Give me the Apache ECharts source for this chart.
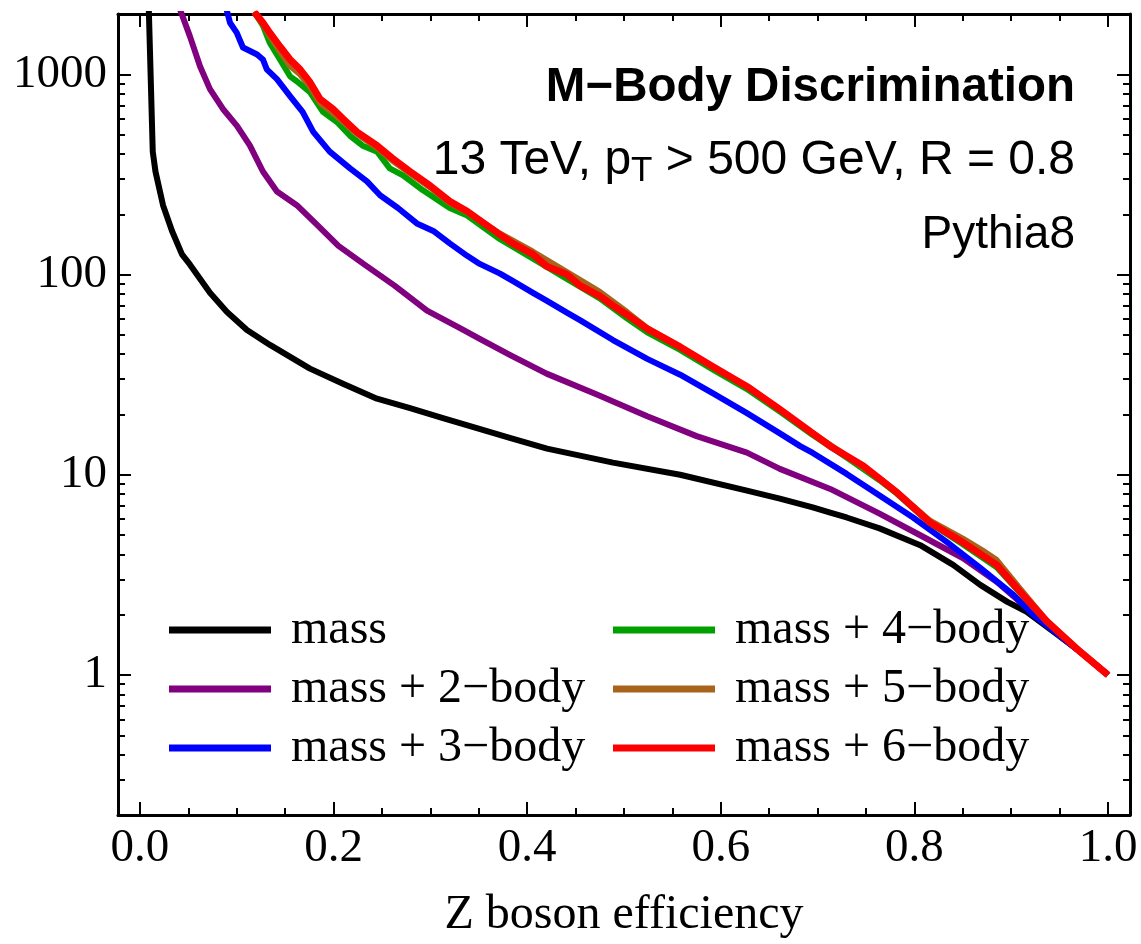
<!DOCTYPE html>
<html><head><meta charset="utf-8">
<script src="https://cdn.jsdelivr.net/npm/echarts@6/dist/echarts.min.js"></script>
<style>html,body{margin:0;padding:0;background:#fff}#c{width:1141px;height:944px}</style>
</head><body><div id="c"></div>
<script>
// ---- data ----
const seriesNames = ['mass', 'mass + 2\u2212body', 'mass + 3\u2212body', 'mass + 4\u2212body', 'mass + 5\u2212body', 'mass + 6\u2212body'];

const massX = [0.0088, 0.0132, 0.016, 0.0238, 0.0331, 0.0434, 0.0517, 0.0723, 0.0899, 0.1105, 0.1343, 0.1756, 0.2097, 0.2448, 0.279, 0.313, 0.348, 0.382, 0.4205, 0.4886, 0.558, 0.627, 0.661, 0.695, 0.713, 0.730, 0.764, 0.806, 0.840, 0.868, 0.896, 0.916, 0.947, 0.971, 1.0];
const massY = [2400, 411, 327, 222, 165, 126, 112, 81, 65, 52.8, 44.5, 33.9, 28.5, 24.0, 21.5, 19.2, 17.1, 15.3, 13.5, 11.5, 10.0, 8.33, 7.6, 6.87, 6.48, 6.12, 5.4, 4.45, 3.55, 2.82, 2.32, 2.07, 1.6, 1.31, 1.0];

const body2X = [0.0415, 0.0517, 0.062, 0.0723, 0.0857, 0.1002, 0.1136, 0.127, 0.1415, 0.162, 0.183, 0.205, 0.232, 0.263, 0.2965, 0.3306, 0.351, 0.382, 0.420, 0.472, 0.524, 0.575, 0.627, 0.661, 0.713, 0.764, 0.806, 0.850, 0.885, 0.916, 0.947, 0.971, 1.0];
const body2Y = [2100, 1542, 1096, 843, 671, 553, 440, 327, 260, 222, 177, 139, 112, 88, 66, 54, 47.7, 39.7, 32.0, 25.2, 19.6, 15.6, 12.9, 10.7, 8.5, 6.4, 4.99, 3.84, 2.92, 2.17, 1.62, 1.31, 1.0];

const body3X = [0.0885, 0.093, 0.0999, 0.1064, 0.121, 0.127, 0.131, 0.1415, 0.155, 0.168, 0.179, 0.196, 0.217, 0.2345, 0.248, 0.2665, 0.286, 0.303, 0.320, 0.338, 0.351, 0.372, 0.385, 0.406, 0.420, 0.441, 0.4545, 0.4886, 0.524, 0.558, 0.592, 0.627, 0.661, 0.682, 0.695, 0.730, 0.764, 0.7986, 0.834, 0.868, 0.902, 0.9225, 0.947, 0.971, 1.0];
const body3Y = [2200, 1808, 1614, 1360, 1256, 1186, 1059, 945, 778, 649, 516, 411, 339, 292, 249, 215, 180, 165, 143, 124, 113, 101, 93, 81, 74, 64.5, 59.2, 47.1, 37.9, 31.6, 25.5, 20.3, 16.1, 13.9, 12.85, 10.1, 7.87, 6.12, 4.60, 3.43, 2.52, 2.0, 1.62, 1.31, 1.0];

const body4X = [0.118, 0.127, 0.134, 0.1446, 0.155, 0.162, 0.1756, 0.189, 0.2035, 0.217, 0.230, 0.245, 0.258, 0.2717, 0.292, 0.320, 0.338, 0.372, 0.406, 0.441, 0.475, 0.503, 0.524, 0.558, 0.592, 0.627, 0.661, 0.695, 0.730, 0.764, 0.782, 0.816, 0.850, 0.885, 0.909, 0.937, 0.971, 1.0];
const body4Y = [2050, 1750, 1440, 1186, 977, 923, 815, 649, 578, 493, 440, 411, 339, 313, 264, 215, 197, 150, 120, 95, 76, 60.5, 51.5, 42, 33.5, 26.8, 20.7, 15.8, 12.2, 9.4, 8.05, 5.75, 4.5, 3.45, 2.58, 1.84, 1.31, 1.0];

const body5X = [0.118, 0.127, 0.134, 0.1446, 0.155, 0.1653, 0.1756, 0.186, 0.1994, 0.2097, 0.224, 0.245, 0.261, 0.279, 0.300, 0.320, 0.338, 0.372, 0.406, 0.441, 0.475, 0.503, 0.524, 0.558, 0.592, 0.627, 0.661, 0.695, 0.730, 0.764, 0.782, 0.816, 0.850, 0.870, 0.885, 0.909, 0.937, 0.971, 1.0];
const body5Y = [2050, 1790, 1560, 1300, 1100, 1000, 870, 720, 640, 580, 505, 430, 370, 320, 272, 228, 205, 160, 130, 103, 82, 65, 54, 43.5, 34.6, 27.6, 21.2, 16.1, 12.4, 9.6, 8.2, 5.9, 4.8, 4.2, 3.75, 2.7, 1.86, 1.31, 1.0];

const body6X = [0.118, 0.127, 0.134, 0.1446, 0.155, 0.1653, 0.1756, 0.186, 0.1994, 0.2097, 0.224, 0.245, 0.261, 0.279, 0.300, 0.320, 0.338, 0.372, 0.385, 0.406, 0.420, 0.441, 0.4545, 0.475, 0.4886, 0.503, 0.524, 0.558, 0.592, 0.627, 0.661, 0.695, 0.713, 0.730, 0.747, 0.764, 0.782, 0.816, 0.850, 0.885, 0.909, 0.937, 0.971, 1.0];
const body6Y = [2050, 1808, 1614, 1376, 1186, 1059, 913, 752, 671, 599, 516, 440, 380, 327, 277, 232, 207, 158, 143, 126, 110, 100, 88, 78, 70, 63, 53.5, 43.5, 34.6, 27.6, 21.2, 16.1, 13.9, 12.4, 11.1, 9.55, 8.15, 5.78, 4.60, 3.55, 2.61, 1.85, 1.31, 1.0];

const xMajorTicks = [0, 0.2, 0.4, 0.6, 0.8, 1.0];
const xMinorTicks = [0.05, 0.1, 0.15, 0.25, 0.3, 0.35, 0.45, 0.5, 0.55, 0.65, 0.7, 0.75, 0.85, 0.9, 0.95];
const yMajorTicks = [1, 10, 100, 1000];
const yMinorTicks = [0.3, 0.4, 0.5, 0.6, 0.7, 0.8, 0.9, 2, 3, 4, 5, 6, 7, 8, 9, 20, 30, 40, 50, 60, 70, 80, 90, 200, 300, 400, 500, 600, 700, 800, 900];

const titleText = 'M\u2212Body Discrimination';
const xAxisTitle = 'Z boson efficiency';

// ---- chart ----
const SERIF = "'Liberation Serif', 'Times New Roman', serif";
const SANS = "'Liberation Sans', Arial, sans-serif";
const X_MIN = -0.0227, X_MAX = 1.0227, Y_MIN = 0.2, Y_MAX = 2000;
const colors = ['#000000', '#800080', '#0000ff', '#00a000', '#a8641a', '#ff0000'];
const widths = [6, 6, 6, 6, 6, 7];
const xsAll = [massX, body2X, body3X, body4X, body5X, body6X];
const ysAll = [massY, body2Y, body3Y, body4Y, body5Y, body6Y];

function xAxisDef(pos, ticks, len, showLabel, showLine) {
  return {
    type: 'value', position: pos, min: X_MIN, max: X_MAX,
    axisLine: { show: showLine, onZero: false, lineStyle: { color: '#000', width: 3 } },
    axisTick: { show: true, inside: true, length: len, customValues: ticks, lineStyle: { color: '#000', width: 2 } },
    axisLabel: { show: showLabel, customValues: xMajorTicks, formatter: v => Number(v).toFixed(1), margin: 10, color: '#000', fontFamily: SERIF, fontSize: 47 },
    splitLine: { show: false }
  };
}
function yAxisDef(pos, ticks, len, showLabel, showLine) {
  return {
    type: 'log', logBase: 10, position: pos, min: Y_MIN, max: Y_MAX,
    axisLine: { show: showLine, onZero: false, lineStyle: { color: '#000', width: 3 } },
    axisTick: { show: true, inside: true, length: len, customValues: ticks, lineStyle: { color: '#000', width: 2 } },
    axisLabel: { show: showLabel, customValues: yMajorTicks, formatter: v => String(Math.round(v)), margin: 11, color: '#000', fontFamily: SERIF, fontSize: 47 },
    splitLine: { show: false }
  };
}

const xAxes = [
  xAxisDef('bottom', xMajorTicks, 13, true, true),
  xAxisDef('bottom', xMinorTicks, 7, false, false),
  xAxisDef('top', xMajorTicks, 13, false, true),
  xAxisDef('top', xMinorTicks, 7, false, false)
];
xAxes[0].name = xAxisTitle;
xAxes[0].nameLocation = 'middle';
xAxes[0].nameGap = 76;
xAxes[0].nameTextStyle = { color: '#000', fontFamily: SERIF, fontSize: 48 };

const yAxes = [
  yAxisDef('left', yMajorTicks, 13, true, true),
  yAxisDef('left', yMinorTicks, 7, false, false),
  yAxisDef('right', yMajorTicks, 13, false, true),
  yAxisDef('right', yMinorTicks, 7, false, false)
];

const series = seriesNames.map((name, k) => ({
  name, type: 'line', xAxisIndex: 0, yAxisIndex: 0,
  data: xsAll[k].map((x, i) => [x, ysAll[k][i]]),
  symbol: 'none', showSymbol: false, clip: true, z: 2 + k,
  lineStyle: { color: colors[k], width: widths[k], join: 'round' },
  itemStyle: { color: colors[k] }
}));

const legendText = { color: '#000', fontFamily: SERIF, fontSize: 48, lineHeight: 48, rich: { s: { width: 15 } } };
function legendDef(names, left) {
  return {
    data: names, orient: 'vertical', left: left, top: 606, padding: 0,
    itemWidth: 102, itemHeight: 7, itemGap: 11, icon: 'rect', selectedMode: false,
    itemStyle: { borderWidth: 0 },
    formatter: n => '{s| }' + n,
    textStyle: legendText
  };
}

const option = {
  animation: false,
  backgroundColor: '#fff',
  grid: { left: 118, right: 11, top: 14, bottom: 123, containLabel: false },
  xAxis: xAxes,
  yAxis: yAxes,
  legend: [legendDef(seriesNames.slice(0, 3), 169), legendDef(seriesNames.slice(3), 613)],
  graphic: [
    { type: 'text', x: 1075, y: 88, z: 100, style: { text: titleText, align: 'right', verticalAlign: 'middle', fontFamily: SANS, fontWeight: 'bold', fontSize: 47.5, fill: '#000' } },
    { type: 'text', x: 1075, y: 161, z: 100, style: {
        text: '{a|13 TeV, p}{b|T}{a| > 500 GeV, R = 0.8}', align: 'right', verticalAlign: 'middle', lineHeight: 48,
        fontFamily: SANS, fontSize: 48, fill: '#000',
        rich: {
          a: { fontFamily: SANS, fontSize: 48, fill: '#000' },
          b: { fontFamily: SANS, fontSize: 35, fill: '#000', verticalAlign: 'top', padding: [17, 0, 0, 0] }
        } } },
    { type: 'text', x: 1075, y: 235, z: 100, style: { text: 'Pythia8', align: 'right', verticalAlign: 'middle', fontFamily: SANS, fontSize: 46, fill: '#000' } }
  ],
  series: series
};

const chart = echarts.init(document.getElementById('c'), null, { renderer: 'canvas' });
chart.setOption(option);
</script></body></html>
